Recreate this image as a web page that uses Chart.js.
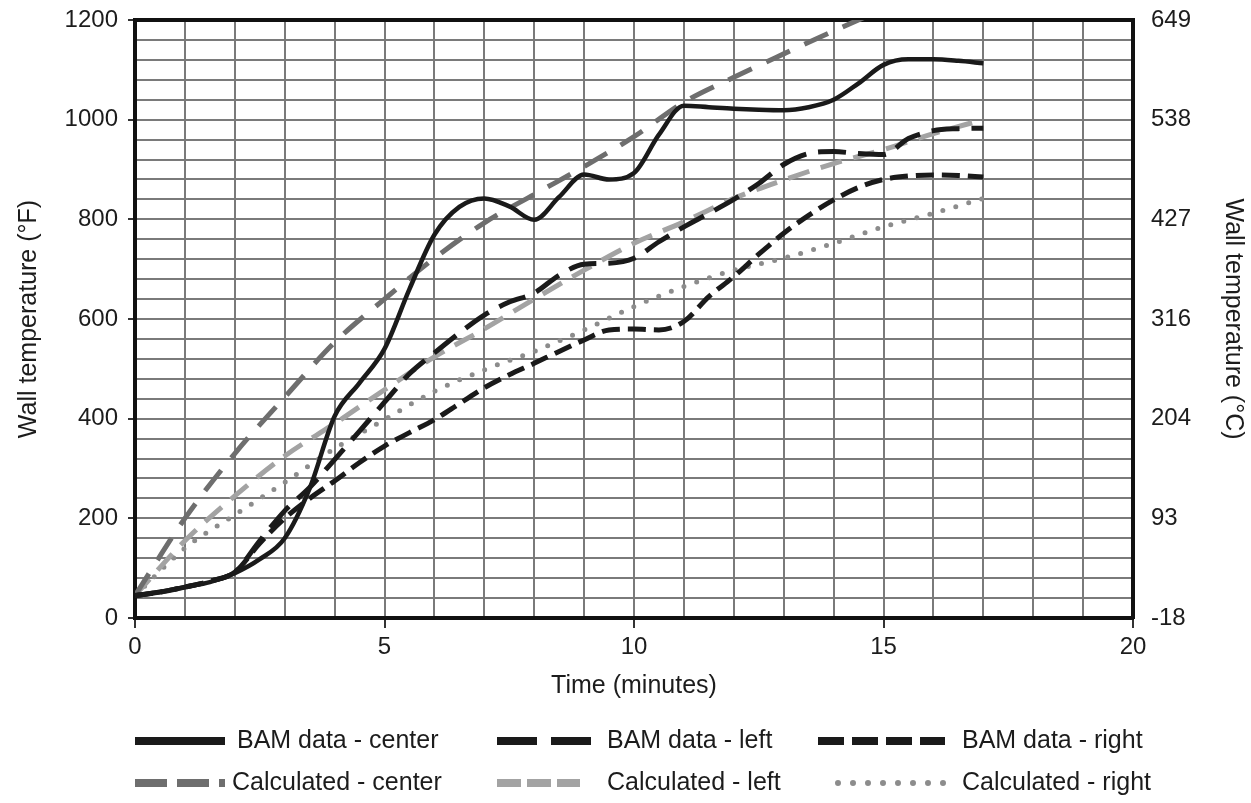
<!DOCTYPE html>
<html>
<head>
<meta charset="utf-8">
<script src="https://cdn.jsdelivr.net/npm/chart.js@4"></script>
<style>
  html, body { margin: 0; padding: 0; background: #fff; }
</style>
</head>
<body>
<canvas id="myChart" width="1251" height="803"></canvas>
<script>
// time axis (minutes)
const timesHalf = [0, 0.5, 1, 1.5, 2, 2.5, 3, 3.5, 4, 4.5, 5, 5.5, 6, 6.5, 7, 7.5, 8, 8.5,
  9, 9.5, 10, 10.5, 11, 11.5, 12, 12.5, 13, 13.5, 14, 14.5, 15, 15.5, 16, 16.5, 17];
const timesWhole = [0, 1, 2, 3, 4, 5, 6, 7, 8, 9, 10, 11, 12, 13, 14, 15, 16, 17];

// measured wall temperatures (°F)
const bamCenter = [45, 52, 62, 72, 90, 118, 160, 260, 405, 472, 540, 660, 769, 825, 842, 826, 799, 845,
  890, 880, 893, 970, 1028, 1025, 1022, 1020, 1019, 1025, 1040, 1073, 1110, 1121, 1121, 1118, 1113];
const bamLeft = [45, 52, 62, 74, 92, 155, 215, 262, 318, 375, 433, 490, 532, 572, 608, 634, 652, 688,
  710, 712, 722, 755, 785, 812, 840, 872, 910, 932, 936, 932, 930, 962, 978, 982, 983];
const bamRight = [45, 52, 62, 74, 92, 150, 200, 240, 275, 312, 345, 372, 398, 430, 462, 488, 511, 535,
  558, 578, 580, 578, 595, 645, 685, 730, 772, 808, 839, 864, 880, 887, 889, 888, 885];

// calculated wall temperatures (°F)
const calcCenter = [45, 200, 330, 443, 553, 640, 722, 793, 850, 906, 966, 1035, 1085, 1132, 1178, 1222, 1264, 1304];
const calcLeft = [45, 155, 245, 325, 390, 458, 524, 580, 640, 698, 752, 795, 842, 879, 912, 940, 972, 1000];
const calcRight = [45, 140, 207, 272, 340, 398, 455, 498, 535, 578, 625, 665, 698, 722, 752, 785, 812, 842];

const seriesNames = ['BAM data - center', 'BAM data - left', 'BAM data - right',
  'Calculated - center', 'Calculated - left', 'Calculated - right'];

const FONT = 'Liberation Sans, Arial, sans-serif';
const INK = '#1c1c1c';

function pts(xs, ys) {
  const out = [];
  for (let i = 0; i < xs.length; i++) out.push({ x: xs[i], y: ys[i] });
  return out;
}

function series(label, xs, ys, color, width, dash, cap) {
  return {
    label: label,
    data: pts(xs, ys),
    borderColor: color,
    borderWidth: width,
    borderDash: dash,
    borderCapStyle: cap || 'butt',
    pointRadius: 0,
    fill: false,
    cubicInterpolationMode: 'monotone'
  };
}

const datasets = [
  series(seriesNames[0], timesHalf, bamCenter, '#1a1a1a', 4.5, []),
  series(seriesNames[1], timesHalf, bamLeft, '#1a1a1a', 5, [28, 12]),
  series(seriesNames[2], timesHalf, bamRight, '#1a1a1a', 5, [18, 8]),
  series(seriesNames[3], timesWhole, calcCenter, '#6e6e6e', 5, [26, 16]),
  series(seriesNames[4], timesWhole, calcLeft, '#a3a3a3', 5, [22, 12]),
  series(seriesNames[5], timesWhole, calcRight, '#8c8c8c', 5, [0, 13.5], 'round')
];

// legend look: sample position, length, dash
const legendSpots = [
  { x: 135, y: 741, w: 90, tx: 237, dash: [], cap: 'butt' },
  { x: 497, y: 741, w: 100, tx: 607, dash: [40, 14], cap: 'butt' },
  { x: 818, y: 741, w: 127, tx: 962, dash: [26, 8], cap: 'butt' },
  { x: 135, y: 783, w: 90, tx: 232, dash: [32, 10], cap: 'butt' },
  { x: 497, y: 783, w: 83, tx: 607, dash: [24, 6], cap: 'butt' },
  { x: 838, y: 783, w: 107, tx: 962, dash: [0, 15], cap: 'round' }
];

const bottomLegend = {
  id: 'bottomLegend',
  afterDraw(chart) {
    const ctx = chart.ctx;
    ctx.save();
    chart.data.datasets.forEach(function (ds, i) {
      const s = legendSpots[i];
      ctx.beginPath();
      ctx.setLineDash(s.dash);
      ctx.lineCap = s.cap;
      ctx.lineWidth = i === 5 ? 6 : 8;
      ctx.strokeStyle = ds.borderColor;
      ctx.moveTo(s.x, s.y);
      ctx.lineTo(s.x + s.w, s.y);
      ctx.stroke();
      ctx.setLineDash([]);
      ctx.fillStyle = INK;
      ctx.font = '25px ' + FONT;
      ctx.textBaseline = 'middle';
      ctx.textAlign = 'left';
      ctx.fillText(ds.label, s.tx, s.y);
    });
    ctx.restore();
  }
};

// pin the vertical axes so their labels do not push the plot down
function fixWidth(w) {
  return function (scale) {
    scale.width = w;
    scale.paddingTop = 0;
    scale.paddingBottom = 0;
  };
}

const ctx = document.getElementById('myChart');

new Chart(ctx, {
  type: 'line',
  data: { datasets: datasets },
  options: {
    responsive: false,
    animation: false,
    layout: { padding: { top: 20, bottom: 93, left: 0, right: 0 } },
    plugins: {
      legend: { display: false },
      tooltip: { enabled: false }
    },
    scales: {
      x: {
        type: 'linear',
        position: 'bottom',
        min: 0,
        max: 20,
        afterFit: function (scale) { scale.height = 92; },
        ticks: {
          stepSize: 1,
          autoSkip: false,
          maxRotation: 0,
          padding: 5,
          color: INK,
          font: { family: FONT, size: 24 },
          callback: function (v) { return v % 5 === 0 ? v : ''; }
        },
        grid: {
          color: '#7a7a7a',
          lineWidth: 2,
          tickLength: 10,
          tickColor: function (c) { return (c.tick && c.tick.value % 5 === 0) ? '#333' : 'rgba(0,0,0,0)'; }
        },
        border: { color: '#111', width: 4 },
        title: {
          display: true,
          text: 'Time (minutes)',
          color: INK,
          font: { family: FONT, size: 25 },
          padding: { top: 0, bottom: 9 }
        }
      },
      x2: {
        type: 'linear',
        position: 'top',
        min: 0,
        max: 20,
        afterFit: function (scale) { scale.height = 0; },
        ticks: { display: false },
        grid: { display: false, drawTicks: false },
        border: { color: '#111', width: 4 }
      },
      y: {
        type: 'linear',
        position: 'left',
        min: 0,
        max: 1200,
        afterFit: fixWidth(135),
        ticks: {
          stepSize: 40,
          autoSkip: false,
          padding: 10,
          color: INK,
          font: { family: FONT, size: 24 },
          callback: function (v) { return v % 200 === 0 ? v : ''; }
        },
        grid: {
          color: '#7a7a7a',
          lineWidth: 2,
          tickLength: 7,
          tickColor: function (c) { return (c.tick && c.tick.value % 200 === 0) ? '#333' : 'rgba(0,0,0,0)'; }
        },
        border: { color: '#111', width: 4 },
        title: {
          display: true,
          text: 'Wall temperature (°F)',
          color: INK,
          font: { family: FONT, size: 25 },
          padding: { top: 14, bottom: 0 }
        }
      },
      y1: {
        type: 'linear',
        position: 'right',
        min: 0,
        max: 1200,
        afterFit: fixWidth(118),
        ticks: {
          stepSize: 200,
          autoSkip: false,
          padding: 18,
          color: INK,
          font: { family: FONT, size: 24 },
          // right axis shows the same gridlines in °C
          callback: function (v) { return Math.round((v - 32) * 5 / 9); }
        },
        grid: { display: false, drawTicks: false },
        border: { color: '#111', width: 4 },
        title: {
          display: true,
          text: 'Wall temperature (°C)',
          color: INK,
          font: { family: FONT, size: 25 },
          padding: { top: 3, bottom: 0 }
        }
      }
    }
  },
  plugins: [bottomLegend]
});
</script>
</body>
</html>
